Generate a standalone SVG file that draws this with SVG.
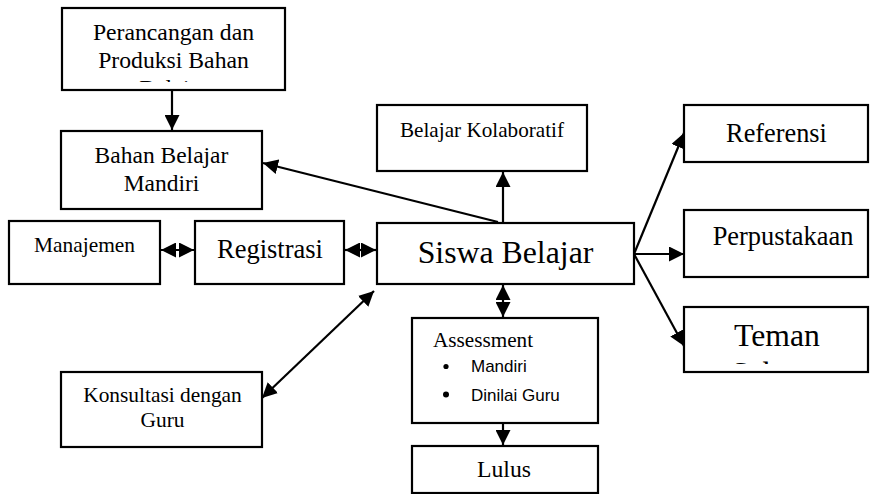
<svg xmlns="http://www.w3.org/2000/svg" width="876" height="494" viewBox="0 0 876 494">
  <style>
    .box { fill: #fff; stroke: #000; stroke-width: 2.2; }
    .t { font-family: "Liberation Serif", "Times New Roman", serif; fill: #000; text-anchor: middle; }
    .tl { font-family: "Liberation Serif", "Times New Roman", serif; fill: #000; text-anchor: start; }
    .s { font-family: "Liberation Sans", Arial, sans-serif; fill: #000; }
    .ln { stroke: #000; stroke-width: 2.2; fill: none; }
    .arr { marker-end: url(#ah); }
    .dbl { marker-start: url(#ah); marker-end: url(#ah); }
  </style>
  <defs>
    <marker id="ah" markerUnits="userSpaceOnUse" markerWidth="15" markerHeight="15" viewBox="0 0 15 15" refX="15" refY="7.5" orient="auto-start-reverse">
      <path d="M0,0 L15,7.5 L0,15 z" fill="#000"/>
    </marker>
    <clipPath id="clipPerancangan"><rect x="62" y="8" width="223" height="74"/></clipPath>
    <clipPath id="clipTeman"><rect x="684" y="307" width="184" height="57"/></clipPath>
  </defs>

  <rect width="876" height="494" fill="#fff"/>

  <g id="connectors">
    <line class="ln arr" x1="172" y1="90" x2="172" y2="130"/>
    <line class="ln arr" x1="498" y1="222" x2="263" y2="163"/>
    <line class="ln arr" x1="503" y1="222" x2="503" y2="172"/>
    <line class="ln dbl" x1="161" y1="250" x2="194" y2="250"/>
    <line class="ln dbl" x1="345" y1="250" x2="376" y2="250"/>
    <line class="ln arr" x1="634" y1="254" x2="684" y2="133"/>
    <line class="ln arr" x1="634" y1="254" x2="684" y2="254"/>
    <line class="ln arr" x1="634" y1="254" x2="684" y2="346"/>
    <line class="ln dbl" x1="262" y1="398" x2="374" y2="291"/>
    <line class="ln dbl" x1="503" y1="285" x2="503" y2="317"/>
    <line class="ln arr" x1="503" y1="424" x2="503" y2="445"/>
  </g>

  <g id="perancangan">
    <rect class="box" x="62" y="8" width="223" height="82"/>
    <g clip-path="url(#clipPerancangan)">
      <text class="t" x="173.5" y="40" font-size="23.7">Perancangan dan</text>
      <text class="t" x="173.5" y="68" font-size="23.7">Produksi Bahan</text>
      <text class="t" x="173.5" y="96" font-size="23.7">Belajar</text>
    </g>
  </g>

  <g id="bahan-belajar">
    <rect class="box" x="61" y="131" width="201" height="78"/>
    <text class="t" x="161.5" y="163" font-size="23.5">Bahan Belajar</text>
    <text class="t" x="161.5" y="191" font-size="23.5">Mandiri</text>
  </g>

  <g id="manajemen">
    <rect class="box" x="9" y="221" width="151" height="63"/>
    <text class="t" x="84.5" y="252" font-size="21.4">Manajemen</text>
  </g>

  <g id="registrasi">
    <rect class="box" x="195" y="221" width="149" height="63"/>
    <text class="t" x="270" y="258" font-size="26.5">Registrasi</text>
  </g>

  <g id="siswa-belajar">
    <rect class="box" x="377" y="223" width="257" height="61"/>
    <text class="t" x="505.5" y="263" font-size="31.8">Siswa Belajar</text>
  </g>

  <g id="belajar-kolaboratif">
    <rect class="box" x="377" y="105" width="210" height="66"/>
    <text class="t" x="482" y="137" font-size="21.2">Belajar Kolaboratif</text>
  </g>

  <g id="referensi">
    <rect class="box" x="684" y="105" width="184" height="57"/>
    <text class="t" x="776.5" y="142" font-size="26.3">Referensi</text>
  </g>

  <g id="perpustakaan">
    <rect class="box" x="684" y="210" width="184" height="67"/>
    <text class="t" x="783" y="245" font-size="26.4">Perpustakaan</text>
  </g>

  <g id="teman">
    <rect class="box" x="684" y="307" width="184" height="65"/>
    <g clip-path="url(#clipTeman)">
      <text class="t" x="777" y="346" font-size="31.7">Teman</text>
      <text class="t" x="777" y="384" font-size="31.7">Sebaya</text>
    </g>
  </g>

  <g id="assessment">
    <rect class="box" x="412" y="318" width="186" height="105"/>
    <text class="tl" x="433" y="347" font-size="21.2">Assessment</text>
    <circle cx="446" cy="366.5" r="2.6" fill="#000"/>
    <text class="s" x="471" y="372" font-size="17">Mandiri</text>
    <circle cx="446" cy="394.5" r="3" fill="#000"/>
    <text class="s" x="471" y="401" font-size="17">Dinilai Guru</text>
  </g>

  <g id="lulus">
    <rect class="box" x="412" y="446" width="186" height="47"/>
    <text class="t" x="504" y="477" font-size="23.7">Lulus</text>
  </g>

  <g id="konsultasi">
    <rect class="box" x="61" y="372" width="201" height="75"/>
    <text class="t" x="162.5" y="402" font-size="21.4">Konsultasi dengan</text>
    <text class="t" x="162.5" y="427" font-size="21.4">Guru</text>
  </g>
</svg>
